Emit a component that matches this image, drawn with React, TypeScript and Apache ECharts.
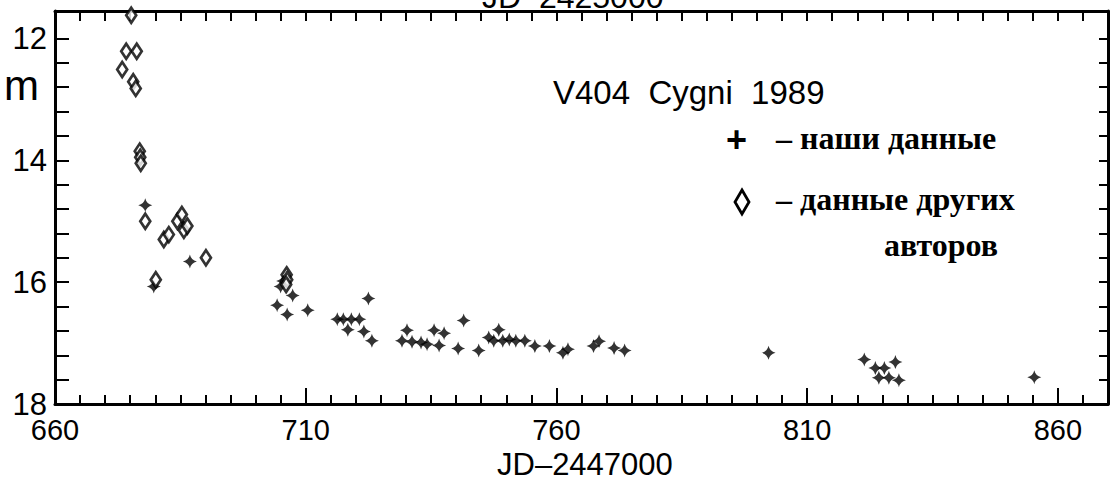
import React, { useEffect, useRef } from "react";
import * as echarts from "echarts";

// Tick labels
const xTickLabels = [660, 710, 760, 810, 860];
const xMajorTicks = [710, 760, 810, 860];
const yTickLabels = [12, 14, 16, 18];

// "наши данные" (our data): [JD-2447000, magnitude]
const ourData: [number, number][] = [
  [678.0, 14.74], [679.7, 16.07], [686.9, 15.66],
  [704.3, 16.38], [705.0, 16.07], [705.5, 15.98], [706.3, 16.53], [707.4, 16.22], [710.4, 16.46],
  [716.3, 16.61], [717.5, 16.61], [719.1, 16.61], [720.7, 16.61],
  [718.4, 16.78], [721.6, 16.81], [723.2, 16.96], [722.5, 16.27],
  [729.2, 16.96], [730.2, 16.79], [731.2, 16.98], [733.0, 16.99], [734.2, 17.02],
  [735.6, 16.79], [736.6, 17.04], [737.6, 16.84], [740.4, 17.09], [741.5, 16.63],
  [744.5, 17.12], [746.5, 16.91], [747.5, 16.96], [748.5, 16.78], [749.3, 16.96],
  [750.6, 16.94], [751.9, 16.96], [753.7, 16.96], [755.7, 17.05], [758.6, 17.05],
  [761.3, 17.16], [762.3, 17.10], [767.4, 17.05], [768.5, 16.97], [771.5, 17.08],
  [773.6, 17.12], [802.3, 17.16], [821.4, 17.27], [823.6, 17.41], [825.4, 17.41],
  [824.3, 17.57], [826.3, 17.57], [827.6, 17.31], [828.3, 17.61], [855.3, 17.56],
];

// "данные других авторов" (other authors' data)
const otherData: [number, number][] = [
  [675.2, 11.62], [674.2, 12.21], [676.3, 12.21], [673.4, 12.51], [675.6, 12.71],
  [676.1, 12.82], [676.9, 13.85], [677.0, 13.95], [677.1, 14.05], [678.0, 15.0],
  [680.1, 15.96], [681.7, 15.3], [682.7, 15.22], [684.4, 15.0], [685.3, 14.89],
  [685.7, 15.15], [686.4, 15.08], [690.1, 15.6], [706.2, 15.88], [706.3, 15.96],
  [706.1, 16.04],
];

const xMinorTicks: number[] = [];
for (let v = 660; v <= 870; v += 5) xMinorTicks.push(v);
const yMinorTicks: number[] = [];
for (let i = 0; i <= 15; i++) yMinorTicks.push(Math.round((12 + 0.4 * i) * 10) / 10);

const PLUS = "path://M10,0 Q11.8,8.2 20,10 Q11.8,11.8 10,20 Q8.2,11.8 0,10 Q8.2,8.2 10,0 Z";
const SANS = "Liberation Sans";
const SERIF = "Liberation Serif";

export default function App() {
  const ref = useRef<HTMLDivElement>(null);
  useEffect(() => {
    if (!ref.current) return;
    const chart = echarts.init(ref.current, undefined, { renderer: "svg" });
    const lineStyle = { color: "#000", width: 3 };
    chart.setOption({
      animation: false,
      backgroundColor: "#fff",
      grid: { left: 55, right: 5, top: 11, bottom: 78, containLabel: false },
      xAxis: [
        {
          type: "value", position: "bottom", min: 660, max: 870,
          axisLine: { show: true, lineStyle },
          axisTick: { show: true, inside: true, length: 9, customValues: xMinorTicks, lineStyle: { color: "#000", width: 2 } },
          axisLabel: { show: true, customValues: xTickLabels, color: "#000", fontSize: 29, lineHeight: 24, fontFamily: SANS, margin: 14 },
          splitLine: { show: false },
        },
        {
          type: "value", position: "bottom", min: 660, max: 870,
          axisLine: { show: false },
          axisTick: { show: true, inside: true, length: 16, customValues: xMajorTicks, lineStyle: { color: "#000", width: 2 } },
          axisLabel: { show: false },
          splitLine: { show: false },
        },
        {
          type: "value", position: "top", min: 660, max: 870,
          axisLine: { show: true, lineStyle },
          axisTick: { show: true, inside: true, length: 10, customValues: xMinorTicks, lineStyle: { color: "#000", width: 2 } },
          axisLabel: { show: false },
          splitLine: { show: false },
        },
      ],
      yAxis: [
        {
          type: "value", position: "left", inverse: true, min: 11.55, max: 18,
          axisLine: { show: true, lineStyle },
          axisTick: { show: true, inside: true, length: 14, customValues: yMinorTicks, lineStyle: { color: "#000", width: 2 } },
          axisLabel: { show: true, customValues: yTickLabels, color: "#000", fontSize: 31, lineHeight: 22, fontFamily: SANS, margin: 8 },
          splitLine: { show: false },
        },
        {
          type: "value", position: "right", inverse: true, min: 11.55, max: 18,
          axisLine: { show: true, lineStyle },
          axisTick: { show: true, inside: true, length: 9, customValues: yMinorTicks, lineStyle: { color: "#000", width: 2 } },
          axisLabel: { show: false },
          splitLine: { show: false },
        },
      ],
      series: [
        {
          type: "scatter", name: "наши данные", xAxisIndex: 0, yAxisIndex: 0,
          data: ourData, symbol: PLUS, symbolSize: 14,
          itemStyle: { color: "#000" }, z: 3,
        },
        {
          type: "scatter", name: "данные других авторов", xAxisIndex: 0, yAxisIndex: 0,
          data: otherData, symbol: "diamond", symbolSize: [10, 15],
          itemStyle: { color: "#fff", borderColor: "#000", borderWidth: 2.8 }, z: 4,
        },
      ],
      graphic: [
        { type: "text", left: 482, top: -19, style: { text: "JD  2425000", font: `32px ${SANS}`, fill: "#000" } },
        { type: "text", left: 4, top: 64, style: { text: "m", font: `42px ${SANS}`, fill: "#000" } },
        { type: "text", left: 553, top: 76, style: { text: "V404  Cygni  1989", font: `33px ${SANS}`, fill: "#000" } },
        { type: "text", left: 726, top: 121, style: { text: "+", font: `bold 36px ${SANS}`, fill: "#000" } },
        { type: "text", left: 776, top: 122, style: { text: "– наши данные", font: `bold 32px ${SERIF}`, fill: "#000" } },
        {
          type: "polygon", shape: { points: [[742, 190], [749, 202], [742, 214], [735, 202]] },
          style: { fill: "#fff", stroke: "#000", lineWidth: 2.8 },
        },
        { type: "text", left: 776, top: 183, style: { text: "– данные других", font: `bold 32px ${SERIF}`, fill: "#000" } },
        { type: "text", left: 884, top: 229, style: { text: "авторов", font: `bold 32px ${SERIF}`, fill: "#000" } },
        { type: "text", left: 497, top: 449, style: { text: "JD–2447000", font: `31px ${SANS}`, fill: "#000" } },
      ],
    });
    return () => chart.dispose();
  }, []);
  return <div ref={ref} style={{ position: "fixed", left: 0, top: 0, width: 1113, height: 482 }} />;
}
